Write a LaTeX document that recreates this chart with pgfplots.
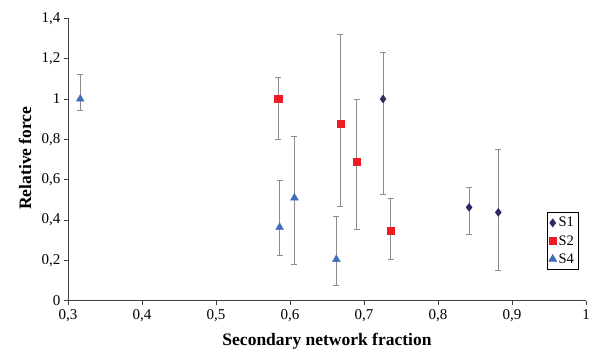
\documentclass[border=0pt]{standalone}
\usepackage{fontspec}
\setmainfont{Liberation Serif}
\usepackage{pgfplots}
\pgfplotsset{compat=1.18}
\definecolor{cS1}{HTML}{2B2A62}
\definecolor{cS2}{HTML}{ED1C24}
\definecolor{cS4}{HTML}{3C6EB8}
\definecolor{ebar}{HTML}{8C8C8C}
\begin{document}
\begin{tikzpicture}
\begin{axis}[
  scale only axis,
  width=518pt, height=282.4pt,
  xmin=0.3, xmax=1, ymin=0, ymax=1.4,
  xtick={0.3,0.4,...,1.01}, ytick={0,0.2,...,1.41},
  axis x line*=bottom, axis y line*=left,
  axis line style={draw=black!75, line width=0.8pt},
  tick style={draw=black!75, line width=0.8pt},
  tick align=outside, major tick length=4pt,
  /pgf/number format/use comma,
  /pgf/number format/assume math mode=true,
  ticklabel style={font=\fontsize{15}{17}\selectfont},
  xticklabel style={yshift=-1pt},
  xlabel={\textbf{Secondary network fraction}},
  ylabel={\textbf{Relative force}},
  every axis x label/.style={at={(rel axis cs:0.5,0)}, anchor=center, yshift=-41pt, font=\fontsize{17.5}{19}\selectfont},
  every axis y label/.style={at={(rel axis cs:0,0.505)}, anchor=center, rotate=90, yshift=43pt, font=\fontsize{17.5}{19}\selectfont},
  legend style={at={(0.985,0.314)}, anchor=north east, draw=black, line width=0.6pt,
    font=\fontsize{14.5}{16}\selectfont, inner xsep=2pt, inner ysep=3pt, row sep=3pt,
    cells={anchor=west}},
  legend cell align=left,
  error bars/error bar style={draw=ebar, line width=0.8pt},
  error bars/error mark=-,
  error bars/error mark options={draw=ebar, mark size=3pt, line width=0.8pt, rotate=90},
]
\addplot+[only marks, mark=diamond*, mark size=4pt, color=cS1, mark options={fill=cS1, draw=cS1},
  error bars/.cd, y dir=both, y explicit]
  table[x=x, y=y, y error plus=ep, y error minus=em] {
  x      y      ep     em
  0.7257 1.000  0.231  0.475
  0.842  0.463  0.097  0.133
  0.8815 0.438  0.312  0.289
};
\addlegendentry{S1}
\addplot+[only marks, mark=square*, mark size=3.6pt, color=cS2, mark options={fill=cS2, draw=cS2},
  error bars/.cd, y dir=both, y explicit]
  table[x=x, y=y, y error plus=ep, y error minus=em] {
  x      y      ep     em
  0.584  1.000  0.106  0.200
  0.668  0.879  0.439  0.411
  0.690  0.688  0.312  0.334
  0.736  0.349  0.160  0.146
};
\addlegendentry{S2}
\addplot+[only marks, mark=triangle*, mark size=4.5pt, color=cS4, mark options={fill=cS4, draw=cS4},
  error bars/.cd, y dir=both, y explicit]
  table[x=x, y=y, y error plus=ep, y error minus=em] {
  x      y      ep     em
  0.3166 1.000  0.120  0.055
  0.586  0.364  0.230  0.139
  0.606  0.510  0.303  0.329
  0.6626 0.205  0.215  0.127
};
\addlegendentry{S4}
\end{axis}
\pgfresetboundingbox
\path ([xshift=-68pt,yshift=-55.3pt]current axis.south west) rectangle ([xshift=4pt,yshift=18.3pt]current axis.north east);
\end{tikzpicture}
\end{document}
